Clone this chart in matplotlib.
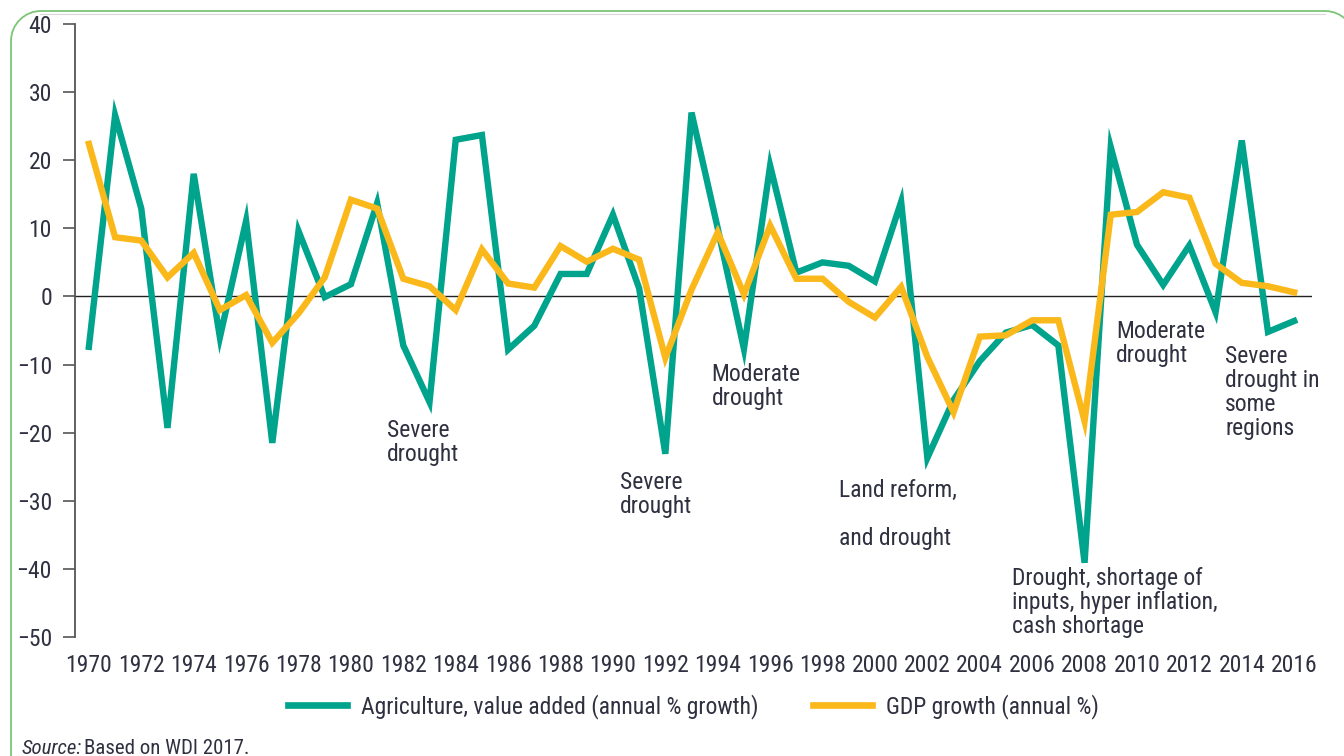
import sys
import matplotlib
matplotlib.use("Agg")
import matplotlib.pyplot as plt
from matplotlib import font_manager as fm
from matplotlib.patches import PathPatch
from matplotlib.path import Path
from matplotlib.lines import Line2D
from matplotlib.transforms import IdentityTransform

# ---------------- data ----------------
years = list(range(1970, 2017))
agri = [-7.4, 26.6, 12.9, -19.3, 18.0, -6.0, 11.1, -21.5, 9.6, -0.1,
        1.8, 13.7, -7.2, -15.5, 23.0, 23.7, -7.8, -4.3, 3.3, 3.3,
        12.0, 1.2, -23.1, 27.0, 10.0, -7.7, 19.2, 3.5, 5.0, 4.5,
        2.2, 13.9, -23.7, -15.2, -9.5, -5.3, -4.2, -7.2, -39.1, 21.9,
        7.6, 1.7, 7.5, -2.3, 22.9, -5.2, -3.6]
gdp = [22.4, 8.7, 8.2, 2.8, 6.4, -2.0, 0.2, -6.8, -2.5, 2.8,
       14.2, 12.9, 2.6, 1.5, -2.0, 6.9, 1.9, 1.3, 7.4, 5.1,
       7.0, 5.4, -9.0, 1.0, 9.4, 0.3, 10.4, 2.6, 2.6, -0.8,
       -3.1, 1.4, -8.9, -17.0, -5.9, -5.7, -3.5, -3.5, -18.3, 12.0,
       12.4, 15.3, 14.5, 4.8, 2.0, 1.5, 0.6]
xtick_years = list(range(1970, 2017, 2))
yticks = [40, 30, 20, 10, 0, -10, -20, -30, -40, -50]
series_labels = ["Agriculture, value added (annual % growth)", "GDP growth (annual %)"]

# annotations: (text, year of left edge, value at baseline of last line)
notes = [
    ("Severe\ndrought", 1981.38, -24.2),
    ("Severe\ndrought", 1990.28, -31.85),
    ("Moderate\ndrought", 1993.77, -15.9),
    ("Land reform,\n\nand drought", 1998.62, -36.5),
    ("Drought, shortage of\ninputs, hyper inflation,\ncash shortage", 2005.24, -49.4),
    ("Moderate\ndrought", 2009.2, -9.6),
    ("Severe\ndrought in\nsome\nregions", 2013.37, -20.35),
]

# ---------------- style ----------------
names = {f.name for f in fm.fontManager.ttflist}
FONT = "DejaVu Sans"
for cand in ["Liberation Sans Narrow", "Roboto Condensed", "Roboto", "Liberation Sans"]:
    if cand in names:
        FONT = cand
        break
plt.rcParams["font.family"] = [FONT, "DejaVu Sans"]

GREEN = "#00A38B"
YELLOW = "#FBB81A"
TEXT = "#2f3040"
FS = 17

W, H = 1344, 756
fig = plt.figure(figsize=(W / 100, H / 100), dpi=100)
fig.patch.set_facecolor("white")

ax = fig.add_axes([75 / W, 1 - 637 / H, (1312 - 75) / W, (637 - 24) / H])
ax.set_xlim(1969.47, 2016.68)
ax.set_ylim(-50, 40)

ax.plot(years, agri, color=GREEN, lw=4.6, solid_joinstyle="miter", zorder=3,
        label=series_labels[0])
ax.plot(years, gdp, color=YELLOW, lw=4.6, solid_joinstyle="miter", zorder=4,
        label=series_labels[1])
ax.axhline(0, color="#222222", lw=1.0, zorder=2)

for s in ["top", "right", "bottom"]:
    ax.spines[s].set_visible(False)
ax.spines["left"].set_color("#555555")
ax.spines["left"].set_linewidth(1.3)

ax.set_yticks(yticks)
ax.set_yticklabels([("\u2212" + str(-v)) if v < 0 else str(v) for v in yticks])
ax.set_xticks(xtick_years)
ax.set_xticklabels([str(y) for y in xtick_years])
ax.tick_params(axis="y", direction="out", length=8.6, width=1.2, color="#555555",
               pad=8, labelsize=FS, labelcolor=TEXT)
ax.tick_params(axis="x", length=0, pad=12, labelsize=FS, labelcolor=TEXT)

for txt, xx, yy in notes:
    ax.text(xx, yy, txt, fontsize=FS, color=TEXT, ha="left", va="baseline",
            linespacing=1.06, zorder=5)

leg = ax.legend(loc="center", bbox_to_anchor=(0.5, -0.113), ncol=2, frameon=False,
                fontsize=FS, handlelength=2.5, handletextpad=0.6, columnspacing=2.3,
                labelcolor=TEXT)
for line in leg.get_lines():
    line.set_linewidth(4.8)

# source line
t1 = fig.text(22 / W, 1 - 754 / H, "Source:", fontsize=15, style="italic", color=TEXT,
              ha="left", va="baseline")
renderer = fig.canvas.get_renderer()
bb = t1.get_window_extent(renderer=renderer)
fig.text((bb.x1 + 2) / W, 1 - 754 / H, "Based on WDI 2017.", fontsize=15, color=TEXT,
         ha="left", va="baseline")

# rounded green frame (display pixels, origin bottom-left)
r = 30
k = 0.5523 * r
L, T, R, B = 11, H - 11, 1355, -40
verts = [(L, B), (L, T - r),
         (L, T - r + k), (L + r - k, T), (L + r, T),
         (R - r, T),
         (R - r + k, T), (R, T - r + k), (R, T - r),
         (R, B)]
codes = [Path.MOVETO, Path.LINETO,
         Path.CURVE4, Path.CURVE4, Path.CURVE4,
         Path.LINETO,
         Path.CURVE4, Path.CURVE4, Path.CURVE4,
         Path.LINETO]
frame = PathPatch(Path(verts, codes), transform=IdentityTransform(), facecolor="none",
                  edgecolor="#7cc576", lw=1.3, clip_on=False)
fig.patches.append(frame)
fig.lines.append(Line2D([40, 1325], [H - 13.5, H - 13.5], transform=IdentityTransform(),
                        color="#d8d8d8", lw=0.8))

fig.savefig("out.png", dpi=100, facecolor="white")
